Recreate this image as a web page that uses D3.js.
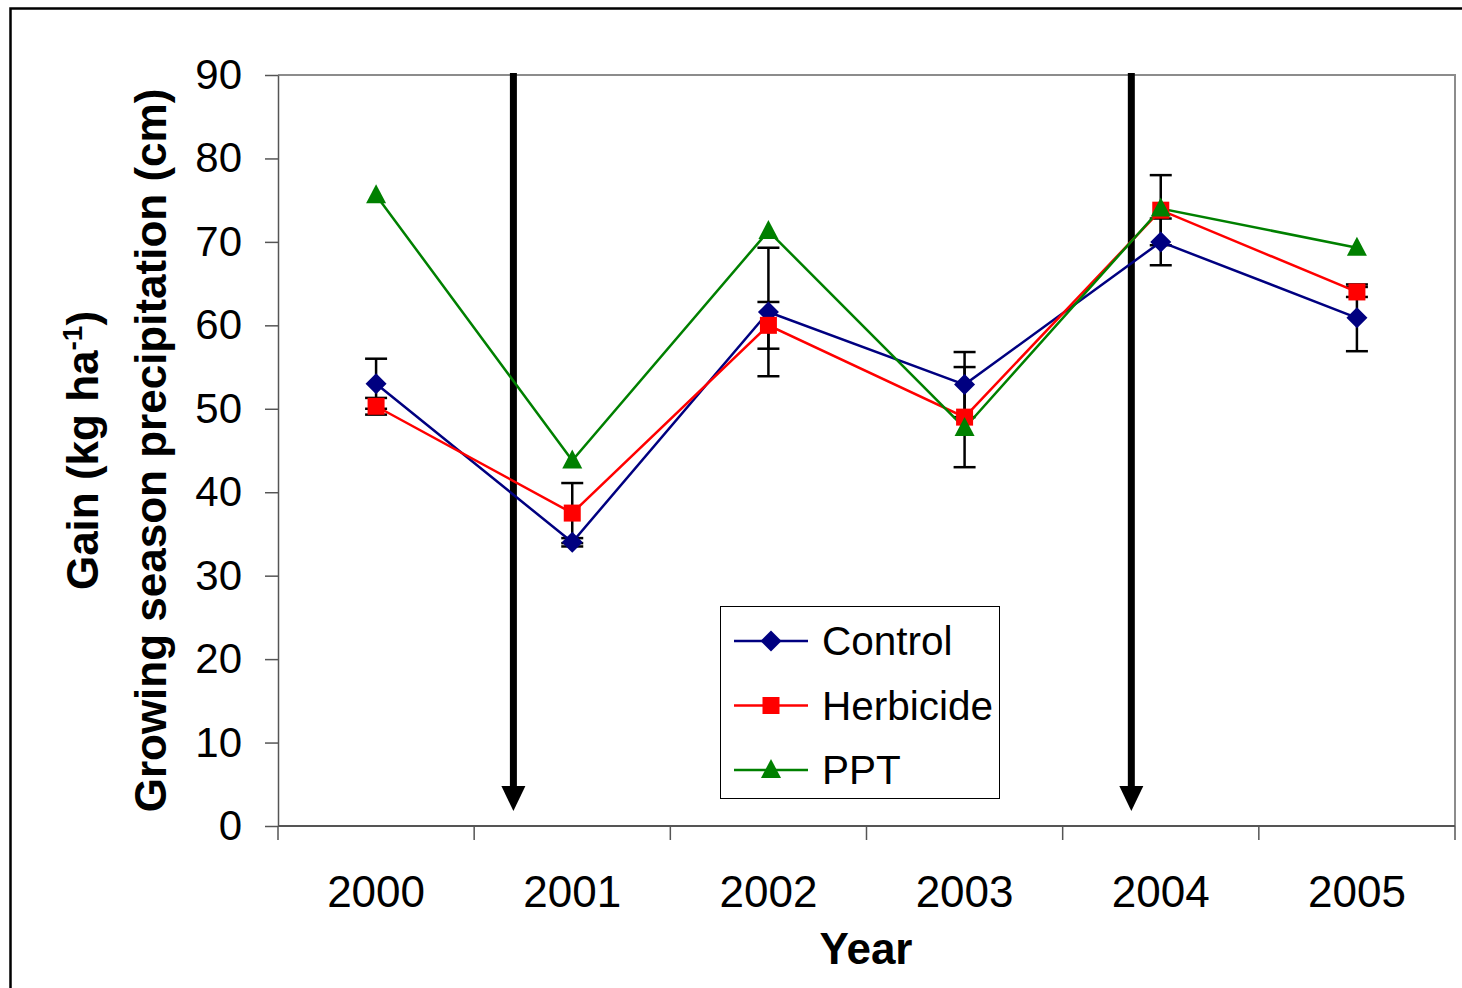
<!DOCTYPE html>
<html>
<head>
<meta charset="utf-8">
<script src="https://cdn.jsdelivr.net/npm/d3@7"></script>
<style>
  html, body { margin: 0; padding: 0; background: #fff; }
  svg { display: block; font-family: "Liberation Sans", Arial, sans-serif; }
</style>
</head>
<body>
<svg id="chart" width="1462" height="988"></svg>
<script>
// Years on the category axis
const years = ["2000", "2001", "2002", "2003", "2004", "2005"];

// Series values and their standard errors
const controlValues = [53.0, 34.0, 61.6, 52.9, 70.0, 60.9];
const controlErrors = [3.0, 0.5, 7.7, 3.9, 2.8, 4.0];
const herbicideValues = [50.3, 37.5, 60.0, 49.0, 73.8, 64.0];
const herbicideErrors = [1.0, 3.6, 2.8, 6.0, 4.2, 0.6];
const pptValues = [75.6, 43.8, 71.3, 47.7, 74.0, 69.3];

// Y axis ticks
const yTicks = [0, 10, 20, 30, 40, 50, 60, 70, 80, 90];

// Treatment timing arrows, as fractional year positions
const arrowYears = [2000.70, 2003.85];

const series = [
  { name: "Control", values: controlValues, errors: controlErrors, color: "#000080", shape: "diamond" },
  { name: "Herbicide", values: herbicideValues, errors: herbicideErrors, color: "#ff0000", shape: "square" },
  { name: "PPT", values: pptValues, errors: null, color: "#008000", shape: "triangle" }
];

const svg = d3.select("#chart");
const plot = { left: 278, top: 75, right: 1455, bottom: 826 };

// Outer chart frame
svg.append("rect")
  .attr("x", 10.5).attr("y", 8.5)
  .attr("width", 1470).attr("height", 1000)
  .attr("fill", "none").attr("stroke", "#000").attr("stroke-width", 2.5);

const x = d3.scaleBand().domain(years).range([plot.left, plot.right]).paddingInner(0).paddingOuter(0);
const xYear = d3.scaleLinear()
  .domain([+years[0], +years[years.length - 1]])
  .range([x(years[0]) + x.bandwidth() / 2, x(years[years.length - 1]) + x.bandwidth() / 2]);
const y = d3.scaleLinear().domain([0, 90]).range([plot.bottom, plot.top]);

// Plot area border (top and right)
svg.append("path")
  .attr("d", `M${plot.left},${plot.top}H${plot.right}V${plot.bottom}`)
  .attr("fill", "none").attr("stroke", "#8c8c8c").attr("stroke-width", 2);

// Y axis
const yAxis = svg.append("g")
  .attr("transform", `translate(${plot.left},0)`)
  .call(d3.axisLeft(y).tickValues(yTicks).tickSize(13).tickPadding(23).tickSizeOuter(0));
yAxis.select(".domain").attr("stroke", "#555").attr("stroke-width", 1.5);
yAxis.selectAll(".tick line").attr("stroke", "#555").attr("stroke-width", 1.5);
yAxis.selectAll(".tick text")
  .attr("font-size", 42).attr("fill", "#000")
  .attr("font-family", "Liberation Sans, Arial, sans-serif");

// X axis with tick marks between categories
const xAxis = svg.append("g").attr("transform", `translate(0,${plot.bottom})`);
xAxis.append("line")
  .attr("x1", plot.left).attr("x2", plot.right)
  .attr("stroke", "#555").attr("stroke-width", 2);
const boundaries = years.map(d => x(d)).concat([plot.right]);
xAxis.selectAll("line.tick")
  .data(boundaries).enter().append("line")
  .attr("class", "tick")
  .attr("x1", d => d).attr("x2", d => d)
  .attr("y1", 0).attr("y2", 14)
  .attr("stroke", "#555").attr("stroke-width", 1.5);
xAxis.selectAll("text")
  .data(years).enter().append("text")
  .attr("x", d => x(d) + x.bandwidth() / 2)
  .attr("y", 81)
  .attr("text-anchor", "middle")
  .attr("font-size", 44)
  .text(d => d);

// Axis titles
svg.append("text")
  .attr("x", 866).attr("y", 964)
  .attr("text-anchor", "middle")
  .attr("font-size", 44).attr("font-weight", "bold")
  .text("Year");

const yTitle = svg.append("text")
  .attr("transform", `translate(98,${(plot.top + plot.bottom) / 2}) rotate(-90)`)
  .attr("text-anchor", "middle")
  .attr("font-size", 44).attr("font-weight", "bold");
yTitle.append("tspan").attr("x", 0).attr("dy", 0).text("Gain (kg ha");
yTitle.append("tspan").attr("font-size", 28).attr("dy", -16).text("-1");
yTitle.append("tspan").attr("dy", 16).text(")");
svg.append("text")
  .attr("transform", `translate(166,${(plot.top + plot.bottom) / 2}) rotate(-90)`)
  .attr("text-anchor", "middle")
  .attr("font-size", 44).attr("font-weight", "bold")
  .text("Growing season precipitation (cm)");

// Treatment arrows
const arrows = svg.append("g");
arrowYears.forEach(yr => {
  const ax = xYear(yr);
  arrows.append("line")
    .attr("x1", ax).attr("x2", ax)
    .attr("y1", plot.top - 2).attr("y2", 790)
    .attr("stroke", "#000").attr("stroke-width", 7);
  arrows.append("path")
    .attr("d", `M${ax - 12},786L${ax + 12},786L${ax},811Z`)
    .attr("fill", "#000");
});

const cx = i => x(years[i]) + x.bandwidth() / 2;

// Error bars
series.filter(s => s.errors).forEach(s => {
  const g = svg.append("g");
  s.values.forEach((v, i) => {
    const e = s.errors[i];
    g.append("line")
      .attr("x1", cx(i)).attr("x2", cx(i))
      .attr("y1", y(v + e)).attr("y2", y(v - e))
      .attr("stroke", "#000").attr("stroke-width", 2.5);
    [v + e, v - e].forEach(b => {
      g.append("line")
        .attr("x1", cx(i) - 11).attr("x2", cx(i) + 11)
        .attr("y1", y(b)).attr("y2", y(b))
        .attr("stroke", "#000").attr("stroke-width", 2.5);
    });
  });
});

// Marker shapes
function markerPath(shape) {
  if (shape === "diamond") return "M0,-10.5L10.5,0L0,10.5L-10.5,0Z";
  if (shape === "square") return "M-8.5,-8.5H8.5V8.5H-8.5Z";
  return "M0,-11L10,8H-10Z";
}

// Series lines and markers
const line = d3.line().x((d, i) => cx(i)).y(d => y(d));
series.forEach(s => {
  svg.append("path")
    .attr("d", line(s.values))
    .attr("fill", "none")
    .attr("stroke", s.color).attr("stroke-width", 2.5);
});
series.forEach(s => {
  svg.append("g").selectAll("path")
    .data(s.values).enter().append("path")
    .attr("transform", (d, i) => `translate(${cx(i)},${y(d)})`)
    .attr("d", markerPath(s.shape))
    .attr("fill", s.color);
});

// Legend
const legend = svg.append("g");
legend.append("rect")
  .attr("x", 720.5).attr("y", 606.5)
  .attr("width", 279).attr("height", 192)
  .attr("fill", "#fff").attr("stroke", "#000").attr("stroke-width", 1);
series.forEach((s, i) => {
  const ly = 641 + i * 64.5;
  legend.append("line")
    .attr("x1", 734).attr("x2", 808)
    .attr("y1", ly).attr("y2", ly)
    .attr("stroke", s.color).attr("stroke-width", 2.5);
  legend.append("path")
    .attr("transform", `translate(771,${ly})`)
    .attr("d", markerPath(s.shape))
    .attr("fill", s.color);
  legend.append("text")
    .attr("x", 822).attr("y", ly + 14)
    .attr("font-size", 40.5)
    .text(s.name);
});
</script>
</body>
</html>
